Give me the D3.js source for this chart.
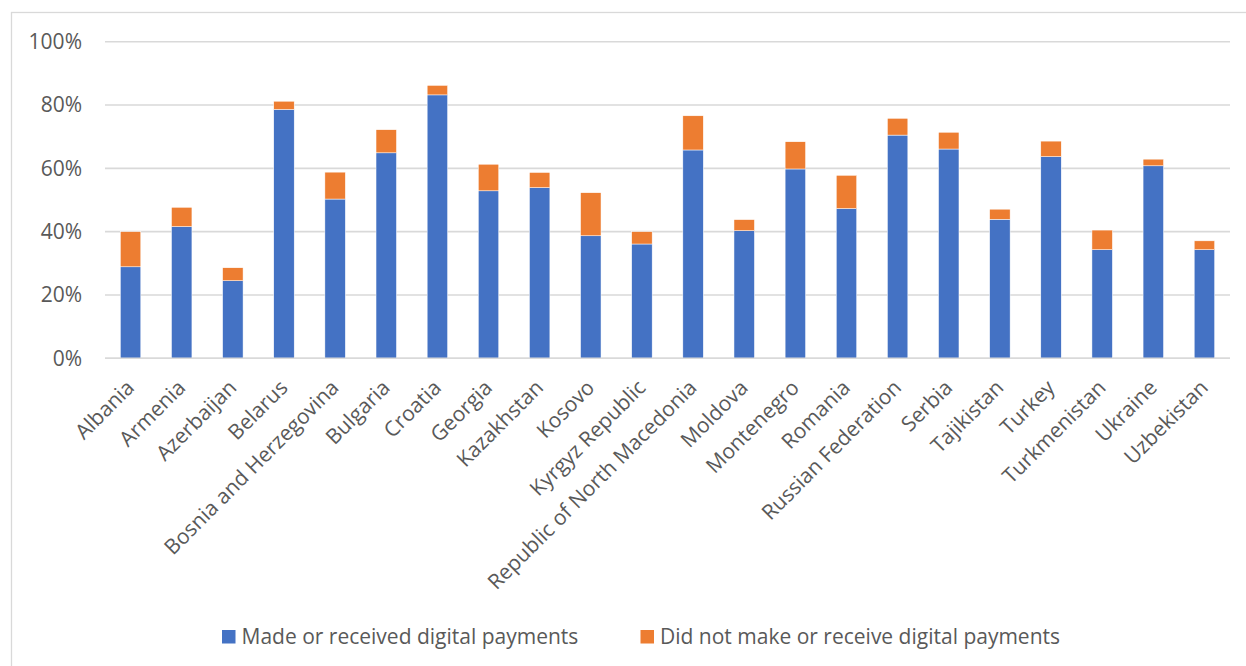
<!DOCTYPE html>
<html>
<head>
<meta charset="utf-8">
<script src="https://cdn.jsdelivr.net/npm/d3@7"></script>
<style>
  html, body { margin: 0; padding: 0; background: #fff; }
  svg { display: block; font-family: "Open Sans", "Noto Sans", sans-serif; }
</style>
</head>
<body>
<svg id="chart" width="1246" height="666"></svg>
<script>
// Share of adults by digital payment status, per country
const countries = [
  "Albania", "Armenia", "Azerbaijan", "Belarus", "Bosnia and Herzegovina",
  "Bulgaria", "Croatia", "Georgia", "Kazakhstan", "Kosovo", "Kyrgyz Republic",
  "Republic of North Macedonia", "Moldova", "Montenegro", "Romania",
  "Russian Federation", "Serbia", "Tajikistan", "Turkey", "Turkmenistan",
  "Ukraine", "Uzbekistan"
];
const madeOrReceived = [
  0.289, 0.416, 0.245, 0.786, 0.503, 0.649, 0.832, 0.529, 0.539, 0.387, 0.361,
  0.658, 0.403, 0.598, 0.473, 0.705, 0.661, 0.439, 0.637, 0.343, 0.608, 0.343
];
const didNotMakeOrReceive = [
  0.111, 0.061, 0.041, 0.026, 0.085, 0.073, 0.030, 0.084, 0.048, 0.136, 0.039,
  0.108, 0.035, 0.086, 0.105, 0.053, 0.053, 0.032, 0.049, 0.062, 0.021, 0.028
];
const seriesNames = ["Made or received digital payments", "Did not make or receive digital payments"];
const seriesColors = ["#4472C4", "#ED7D31"];
const yTicks = [0, 0.2, 0.4, 0.6, 0.8, 1.0];

const svg = d3.select("#chart");
const textColor = "#595959";
const gridColor = "#D9D9D9";
const fontSize = 21;

// outer chart frame
svg.append("rect")
  .attr("x", 11.5).attr("y", 12.5)
  .attr("width", 1250).attr("height", 670)
  .attr("fill", "none").attr("stroke", gridColor).attr("stroke-width", 1.3);

const x = d3.scaleBand()
  .domain(countries)
  .range([105, 1230])
  .paddingInner(0.6)
  .paddingOuter(0.3);

const y = d3.scaleLinear().domain([0, 1]).range([358.3, 41.7]);

// horizontal gridlines
svg.append("g")
  .selectAll("line")
  .data(yTicks)
  .join("line")
  .attr("x1", 105).attr("x2", 1230)
  .attr("y1", d => y(d)).attr("y2", d => y(d))
  .attr("stroke", gridColor).attr("stroke-width", 1.6);

// y axis labels
const yAxis = d3.axisLeft(y).tickValues(yTicks).tickFormat(d3.format(".0%")).tickSize(0).tickPadding(0);
const yg = svg.append("g").attr("transform", "translate(82,0)").call(yAxis);
yg.select(".domain").remove();
yg.selectAll("text")
  .attr("fill", textColor)
  .style("font-size", fontSize + "px")
  .style("font-family", "'Open Sans', 'Noto Sans', sans-serif");

// stacked series
const rows = countries.map((c, i) => ({
  country: c, s0: madeOrReceived[i], s1: didNotMakeOrReceive[i]
}));
const stack = d3.stack().keys(["s0", "s1"]);
const stacked = stack(rows);

svg.append("g")
  .selectAll("g")
  .data(stacked)
  .join("g")
  .attr("fill", (d, i) => seriesColors[i])
  .selectAll("rect")
  .data(d => d)
  .join("rect")
  .attr("x", d => x(d.data.country))
  .attr("width", x.bandwidth())
  .attr("y", d => y(d[1]))
  .attr("height", d => y(d[0]) - y(d[1]))
  .attr("stroke", "#fff")
  .attr("stroke-width", 0.5);

// baseline
svg.append("line")
  .attr("x1", 105).attr("x2", 1230)
  .attr("y1", y(0)).attr("y2", y(0))
  .attr("stroke", gridColor).attr("stroke-width", 1.6);

// category labels, rotated
svg.append("g")
  .selectAll("text")
  .data(countries)
  .join("text")
  .attr("transform", d => `translate(${x(d) + x.bandwidth() / 2 + 5},389) rotate(-45)`)
  .attr("text-anchor", "end")
  .attr("fill", textColor)
  .style("font-size", fontSize + "px")
  .text(d => d);

// legend
const legendItems = [
  { name: seriesNames[0], color: seriesColors[0], x: 222 },
  { name: seriesNames[1], color: seriesColors[1], x: 640.5 }
];
const lg = svg.append("g")
  .selectAll("g")
  .data(legendItems)
  .join("g")
  .attr("transform", d => `translate(${d.x},630)`);
lg.append("rect")
  .attr("width", 13.5).attr("height", 13.5)
  .attr("fill", d => d.color);
lg.append("text")
  .attr("x", 19.5).attr("y", 13.5)
  .attr("fill", textColor)
  .style("font-size", fontSize + "px")
  .text(d => d.name);
</script>
</body>
</html>
